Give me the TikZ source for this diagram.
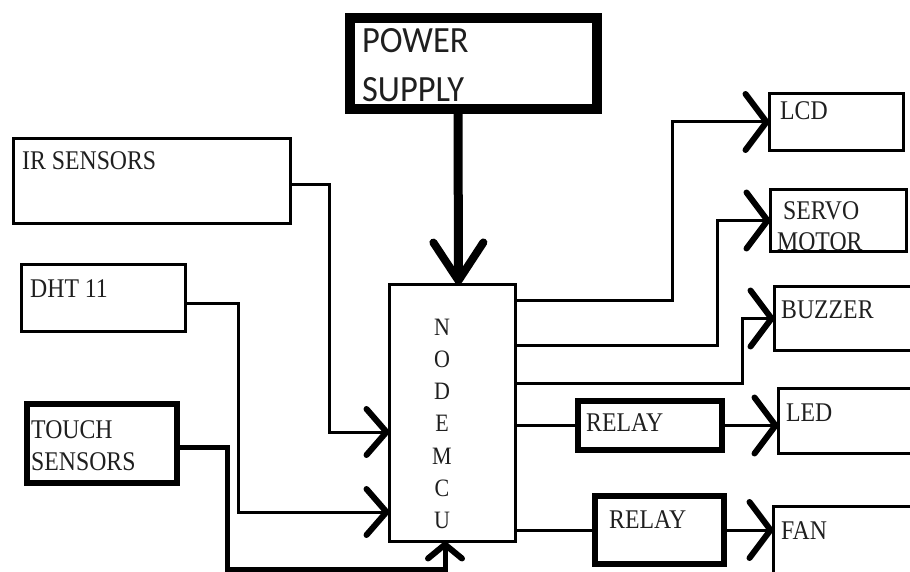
\documentclass[tikz,border=0pt]{standalone}
\usepackage{fontspec}
\setmainfont{Liberation Serif}[FakeStretch=0.88]
\newfontfamily\psufont{Carlito}[FakeStretch=0.93]
\usetikzlibrary{arrows.meta}
\tikzset{
  box/.style={draw=black, line width=3pt, inner sep=0pt, outer sep=0pt, anchor=north west},
  thickbox/.style={box, line width=6pt},
  lbl/.style={inner sep=0pt, anchor=base west, text=black!88, font=\fontsize{27}{28}\selectfont},
  psulbl/.style={lbl, font=\psufont\fontsize{37}{38}\selectfont},
  conn/.style={line width=3pt},
  barb/.style={-{Straight Barb[length=21pt,width=56pt,line width'=6pt,round]}},
  sbarb/.style={-{Straight Barb[length=20pt,width=46pt,line width'=6pt,round]}},
}
\begin{document}
\begin{tikzpicture}[x=1pt,y=-1pt]
\useasboundingbox (0,0) rectangle (910,572);
\clip (0,0) rectangle (910,572);
\fill[white] (0,0) rectangle (910,572);
% boxes
\node[box, line width=10pt, minimum width=247pt, minimum height=91pt] (psu) at (350,18) {};
\node[box, minimum width=277pt, minimum height=85pt] (ir) at (13.5,138.5) {};
\node[box, minimum width=164pt, minimum height=67pt] (dht) at (21.5,264.5) {};
\node[thickbox, minimum width=150pt, minimum height=79pt] (touch) at (27,404) {};
\node[box, minimum width=126pt, minimum height=257pt] (mcu) at (389.5,284.5) {};
\node[box, minimum width=134pt, minimum height=57pt] (lcd) at (769.5,93.5) {};
\node[box, minimum width=136pt, minimum height=62pt] (servo) at (770.5,189.5) {};
\node[box, minimum width=150pt, minimum height=64pt] (buzzer) at (774.5,286.5) {};
\node[thickbox, minimum width=144pt, minimum height=49pt] (relay1) at (578,401) {};
\node[box, minimum width=150pt, minimum height=65pt] (led) at (778.5,388.5) {};
\node[thickbox, minimum width=129pt, minimum height=68pt] (relay2) at (595,496) {};
\node[box, minimum width=150pt, minimum height=100pt] (fan) at (773.5,506.5) {};
% labels
\node[psulbl] (psuA) at (362,53) {POWER};
\node[psulbl] (psuB) at (362,102) {SUPPLY};
\node[lbl] (irL) at (22,170) {IR SENSORS};
\node[lbl] (dhtL) at (30,297) {DHT 11};
\node[lbl] (touchA) at (31,438) {TOUCH};
\node[lbl] (touchB) at (31,470) {SENSORS};
\node[lbl] (lcdL) at (780,120) {LCD};
\node[lbl] (servoA) at (783,219) {SERVO};
\node[lbl] (servoB) at (777,251) {MOTOR};
\node[lbl] (buzzerL) at (781,318) {BUZZER};
\node[lbl] (relay1L) at (586,431) {RELAY};
\node[lbl] (ledL) at (786,421) {LED};
\node[lbl] (relay2L) at (609,528) {RELAY};
\node[lbl] (fanL) at (781,539) {FAN};
\foreach \l [count=\i] in {N,O,D,E,M,C,U}
  \node[lbl, anchor=base, font=\fontsize{25}{26}\selectfont] (mcuL\i) at (442,303+32.2*\i) {\l};
% connectors
\draw[line width=9pt, -{Straight Barb[length=38pt,width=50pt,line width'=8pt,round]}]
  ([xshift=-15.5pt]psu.south) -- ([xshift=6pt]mcu.north);
\draw[line width=5pt, -{Straight Barb[length=14pt,width=34pt,line width'=6pt,round]}]
  ([yshift=-4pt]touch.east) -| (227,569) -| ([xshift=-7.5pt]mcu.south);
\draw[conn, sbarb] ([yshift=-4pt]ir.east) -| (329,432) -- ([yshift=-19pt]mcu.west);
\draw[conn, sbarb] ([yshift=-5pt]dht.east) -| (238,512) -- ([yshift=-99pt]mcu.west);
\draw[conn, barb] ([yshift=113pt]mcu.east) -| (672,122) -- (lcd.west);
\draw[conn, barb] ([yshift=68pt]mcu.east) -| (717,220.5) -- (servo.west);
\draw[conn, barb] ([yshift=30pt]mcu.east) -| (742,318.5) -- (buzzer.west);
\draw[conn] (mcu.east |- relay1.west) -- (relay1.west);
\draw[conn, barb] (relay1.east) -- (relay1.east -| led.west);
\draw[conn] (mcu.east |- relay2.west) -- (relay2.west);
\draw[conn, barb] (relay2.east) -- (relay2.east -| fan.west);
\end{tikzpicture}
\end{document}
